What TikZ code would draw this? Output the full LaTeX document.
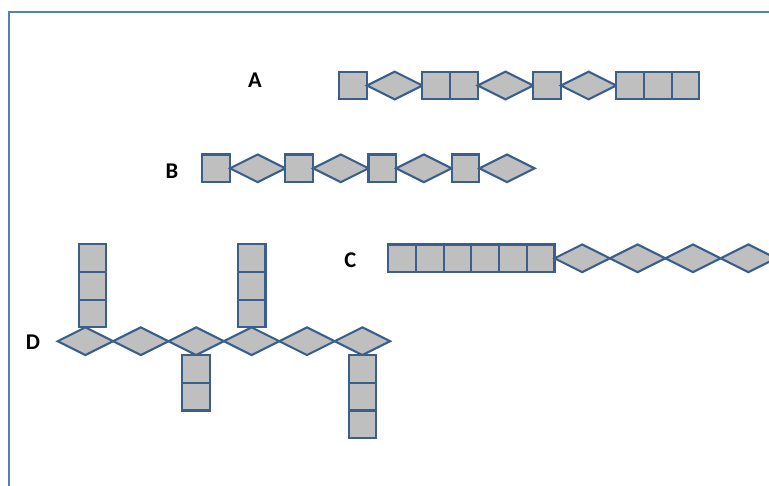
\documentclass[tikz,border=0pt]{standalone}
\usepackage{fontspec}
\setmainfont{Carlito}
\usetikzlibrary{shapes.geometric,positioning}
\definecolor{framecol}{HTML}{4F81BD}
\definecolor{edgecol}{HTML}{3B5F8D}
\definecolor{fillcol}{HTML}{BFBFBF}
\begin{document}
\begin{tikzpicture}[x=1pt,y=-1pt,
  sq/.style={rectangle, draw=edgecol, fill=fillcol, line width=2.1pt, minimum width=27.7pt, minimum height=27.7pt, inner sep=0pt, outer sep=0pt},
  dm/.style={diamond, draw=edgecol, fill=fillcol, line width=2.1pt, minimum width=55.4pt, minimum height=27.7pt, inner sep=0pt, outer sep=0pt},
  lbl/.style={font=\fontsize{22.5}{24}\selectfont\bfseries, anchor=base, inner sep=0pt},
  framestyle/.style={draw=framecol, line width=2.6pt}]
\path[use as bounding box] (0,0) rectangle (769,485);
\clip (0,0) rectangle (769,485);
\fill[white] (0,0) rectangle (769,485);
% frame
\coordinate (fbl) at (9,490);
\coordinate (ftl) at (9,12);
\coordinate (ftr) at (775,12);
\draw[framestyle] (fbl) -- (ftl) -- (ftr);
% labels
\node[lbl] (la) at (255,87.5) {A};
\node[lbl] (lb) at (172,178.3) {B};
\node[lbl] (lc) at (350.3,267.3) {C};
\node[lbl] (ld) at (33,349.7) {D};
% row A
\node[sq] (a1) at (353.15,85.5) {};
\node[dm, right=0pt of a1] (a2) {};
\node[sq, right=0pt of a2] (a3) {};
\node[sq, right=0pt of a3] (a4) {};
\node[dm, right=0pt of a4] (a5) {};
\node[sq, right=0pt of a5] (a6) {};
\node[dm, right=0pt of a6] (a7) {};
\node[sq, right=0pt of a7] (a8) {};
\node[sq, right=0pt of a8] (a9) {};
\node[sq, right=0pt of a9] (a10) {};
% row B
\node[sq] (b1) at (216.15,168.3) {};
\node[dm, right=0pt of b1] (b2) {};
\node[sq, right=0pt of b2] (b3) {};
\node[dm, right=0pt of b3] (b4) {};
\node[sq, right=0pt of b4] (b5) {};
\node[dm, right=0pt of b5] (b6) {};
\node[sq, right=0pt of b6] (b7) {};
\node[dm, right=0pt of b7] (b8) {};
% row C
\node[sq] (c1) at (402.15,258.3) {};
\node[sq, right=0pt of c1] (c2) {};
\node[sq, right=0pt of c2] (c3) {};
\node[sq, right=0pt of c3] (c4) {};
\node[sq, right=0pt of c4] (c5) {};
\node[sq, right=0pt of c5] (c6) {};
\node[dm, right=0pt of c6] (c7) {};
\node[dm, right=0pt of c7] (c8) {};
\node[dm, right=0pt of c8] (c9) {};
\node[dm, right=0pt of c9] (c10) {};
% row D
\node[dm] (d1) at (85.4,341.2) {};
\node[dm, right=0pt of d1] (d2) {};
\node[dm, right=0pt of d2] (d3) {};
\node[dm, right=0pt of d3] (d4) {};
\node[dm, right=0pt of d4] (d5) {};
\node[dm, right=0pt of d5] (d6) {};
% stacks
\node[sq, anchor=south] (s1a) at ([xshift=7pt]d1.north) {};
\node[sq, above=0pt of s1a] (s1b) {};
\node[sq, above=0pt of s1b] (s1c) {};
\node[sq, anchor=south] (s2a) at (d4.north) {};
\node[sq, above=0pt of s2a] (s2b) {};
\node[sq, above=0pt of s2b] (s2c) {};
\node[sq, anchor=north] (s3a) at (d3.south) {};
\node[sq, below=0pt of s3a] (s3b) {};
\node[sq, anchor=north] (s4a) at (d6.south) {};
\node[sq, below=0pt of s4a] (s4b) {};
\node[sq, below=0pt of s4b] (s4c) {};
\end{tikzpicture}
\end{document}
